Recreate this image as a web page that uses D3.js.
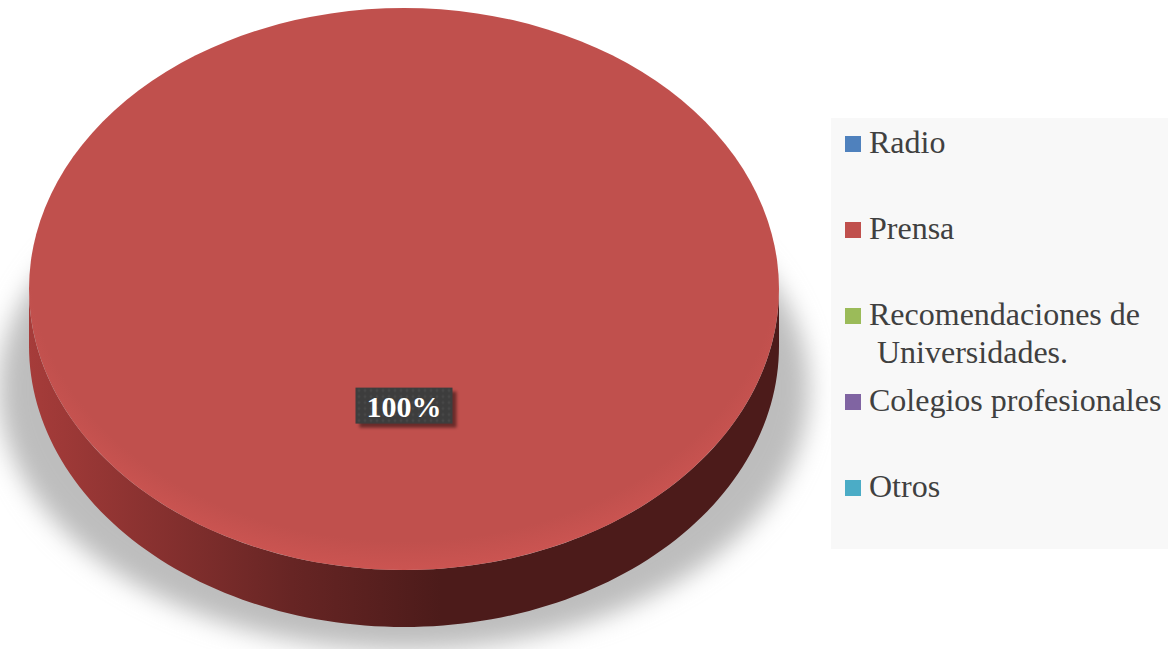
<!DOCTYPE html>
<html>
<head>
<meta charset="utf-8">
<script src="https://cdn.jsdelivr.net/npm/d3@7/dist/d3.min.js"></script>
<style>
  html, body { margin: 0; padding: 0; background: #ffffff; }
  svg { display: block; }
</style>
</head>
<body>
<svg id="chart" width="1168" height="649"></svg>
<script>
// Sources of information (share of answers)
const categories = ["Radio", "Prensa", "Recomendaciones de Universidades.", "Colegios profesionales", "Otros"];
const values = [0, 100, 0, 0, 0];
const colors = ["#4f81bd", "#c0504d", "#9bbb59", "#8064a2", "#4bacc6"];
const sideColors = [
  ["#3b6390", "#1f3550"],
  ["#a63c3a", "#4c1b1a"],
  ["#779044", "#3e4b22"],
  ["#62497f", "#332642"],
  ["#3685a0", "#1c4654"]
];

const W = 1168, H = 649;
const cx = 404, cy = 289, rx = 375, ry = 281, depth = 57;

const svg = d3.select("#chart");
const defs = svg.append("defs");

// soft floor shadow under the disc
defs.append("filter").attr("id", "floorShadow")
  .attr("x", "-20%").attr("y", "-20%").attr("width", "140%").attr("height", "140%")
  .append("feGaussianBlur").attr("stdDeviation", 12);

defs.append("filter").attr("id", "boxShadow")
  .attr("x", "-30%").attr("y", "-30%").attr("width", "160%").attr("height", "160%")
  .append("feGaussianBlur").attr("stdDeviation", 1.5);

// side wall shading, lit from the left
sideColors.forEach((c, i) => {
  const g = defs.append("linearGradient").attr("id", "side" + i)
    .attr("gradientUnits", "userSpaceOnUse")
    .attr("x1", cx - rx).attr("x2", cx + rx).attr("y1", 0).attr("y2", 0);
  g.append("stop").attr("offset", "0%").attr("stop-color", c[0]);
  g.append("stop").attr("offset", "35%").attr("stop-color", d3.interpolateRgb(c[0], c[1])(0.7));
  g.append("stop").attr("offset", "55%").attr("stop-color", c[1]);
  g.append("stop").attr("offset", "100%").attr("stop-color", c[1]);
});

// top face: a faint lighter rim near the front edge
colors.forEach((c, i) => {
  const g = defs.append("radialGradient").attr("id", "face" + i)
    .attr("cx", "50%").attr("cy", "45%").attr("r", "58%");
  g.append("stop").attr("offset", "0%").attr("stop-color", c);
  g.append("stop").attr("offset", "86%").attr("stop-color", c);
  g.append("stop").attr("offset", "100%").attr("stop-color", d3.color(c).brighter(0.25));
});

// fine dot texture for the data label box
const pat = defs.append("pattern").attr("id", "labelTex")
  .attr("patternUnits", "userSpaceOnUse").attr("width", 6).attr("height", 6);
pat.append("rect").attr("width", 6).attr("height", 6).attr("fill", "#3d3d3d");
pat.append("circle").attr("cx", 3).attr("cy", 3).attr("r", 1.4).attr("fill", "#474747");

// shadow on the floor
svg.append("ellipse")
  .attr("cx", cx).attr("cy", cy + 100).attr("rx", rx + 30).attr("ry", ry - 20)
  .attr("fill", "#bdbdbd")
  .attr("filter", "url(#floorShadow)");

const pie = d3.pie().sort(null).value(d => d)(values);

// project an angle (clockwise from 12 o'clock) onto the disc rim
const rim = (a, dy) => [cx + rx * Math.sin(a), cy - ry * Math.cos(a) + dy];

// side walls: only the front half (3 o'clock .. 9 o'clock) is visible
const sideLayer = svg.append("g");
pie.forEach((p, i) => {
  const s = Math.max(p.startAngle, Math.PI / 2);
  const e = Math.min(p.endAngle, 3 * Math.PI / 2);
  if (e <= s) return;
  const n = 120;
  const ang = d3.range(n + 1).map(k => s + (e - s) * k / n);
  const pts = ang.map(a => rim(a, 0)).concat(ang.slice().reverse().map(a => rim(a, depth)));
  sideLayer.append("path")
    .attr("d", d3.line()(pts) + "Z")
    .attr("fill", `url(#side${i})`);
});

// top face drawn with d3.arc on a unit circle, then squashed into the ellipse
const arc = d3.arc().innerRadius(0).outerRadius(1);
const faceLayer = svg.append("g").attr("transform", `translate(${cx},${cy}) scale(${rx},${ry})`);
faceLayer.selectAll("path").data(pie).join("path")
  .attr("d", arc)
  .attr("fill", (d, i) => `url(#face${i})`);

// data labels
const labelArc = d3.arc().innerRadius(0.83).outerRadius(0.83);
const fmt = d3.format(".0%");
const total = d3.sum(values);
pie.filter(p => p.value > 0).forEach(p => {
  const [ux, uy] = labelArc.centroid(p);
  const x = cx + ux * rx * 0.5, y = cy + uy * ry * 0.5;
  const txt = fmt(p.value / total);
  const g = svg.append("g").attr("transform", `translate(${x},${y})`);
  const t = g.append("text")
    .attr("text-anchor", "middle").attr("y", 11)
    .attr("font-family", "'Liberation Serif', 'Times New Roman', serif")
    .attr("font-weight", "bold").attr("font-size", 30)
    .attr("fill", "#ffffff").text(txt);
  const bb = t.node().getBBox();
  const bw = bb.width + 22, bh = 36;
  g.insert("rect", "text")
    .attr("x", -bw / 2 + 4).attr("y", -bh / 2 + 4).attr("width", bw).attr("height", bh)
    .attr("fill", "#000").attr("opacity", 0.45).attr("filter", "url(#boxShadow)");
  g.insert("rect", "text")
    .attr("x", -bw / 2).attr("y", -bh / 2).attr("width", bw).attr("height", bh)
    .attr("fill", "url(#labelTex)");
});

// legend
const legend = svg.append("g");
legend.append("rect")
  .attr("x", 831).attr("y", 118).attr("width", 337).attr("height", 431)
  .attr("fill", "#f8f8f8");

const fontSize = 32, maxW = 300, rowStep = 86, lineH = 38;
const items = legend.selectAll("g.item").data(categories).join("g")
  .attr("class", "item")
  .attr("transform", (d, i) => `translate(845, ${153 + i * rowStep})`);
items.append("rect")
  .attr("x", 0).attr("y", -17).attr("width", 16).attr("height", 16)
  .attr("fill", (d, i) => colors[i]);
items.each(function (name) {
  const t = d3.select(this).append("text")
    .attr("x", 24).attr("y", 0)
    .attr("font-family", "'Liberation Serif', 'Times New Roman', serif")
    .attr("font-size", fontSize).attr("fill", "#404040");
  const words = name.split(" ");
  let line = [];
  let ts = t.append("tspan").attr("x", 24).attr("dy", 0);
  words.forEach(w => {
    line.push(w);
    ts.text(line.join(" "));
    if (ts.node().getComputedTextLength() > maxW && line.length > 1) {
      line.pop();
      ts.text(line.join(" "));
      line = [w];
      ts = t.append("tspan").attr("x", 24).attr("dy", lineH);
      ts.text("\u00a0" + w);
    }
  });
});
</script>
</body>
</html>
